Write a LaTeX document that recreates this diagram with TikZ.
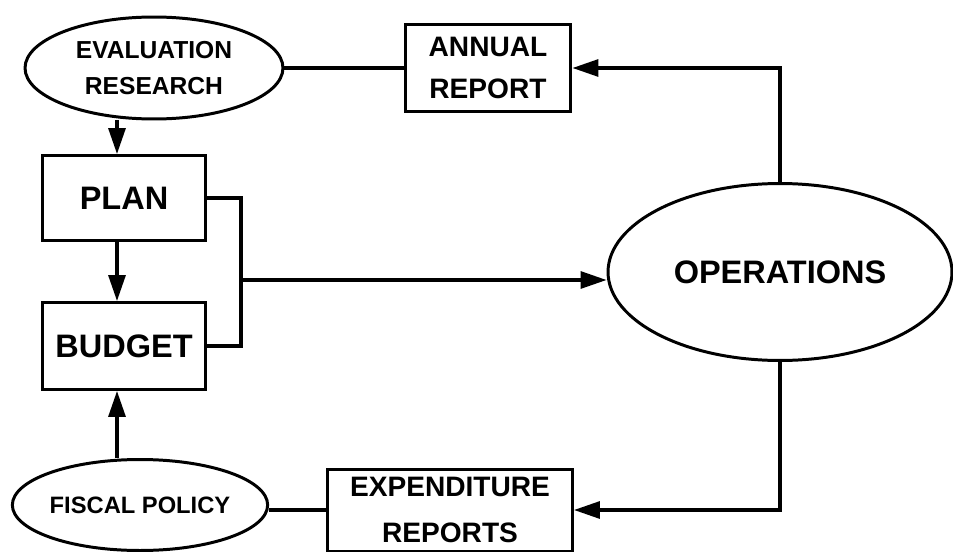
\documentclass[tikz,border=0pt]{standalone}
\usepackage{fontspec}
\setmainfont{Liberation Sans}
\usetikzlibrary{arrows.meta, shapes.geometric}

\begin{document}
\begin{tikzpicture}[
    x=0.02cm, y=-0.02cm,
    box/.style={
        draw,
        line width=1.7pt,
        align=center
    },
    oval/.style={
        box,
        ellipse,
        inner sep=0pt
    },
    link/.style={
        line width=1.8pt
    },
    arrow/.style={
        -{Triangle[length=0.52cm, width=0.34cm]},
        line width=1.8pt
    }
]

\useasboundingbox (0,0) rectangle (953,554);

\node[oval, minimum width=5.16cm, minimum height=2.04cm,
    font=\bfseries\fontsize{14}{20}\selectfont] (evalres) at (154,68)
    {EVALUATION\\RESEARCH};

\node[box, minimum width=3.32cm, minimum height=1.74cm,
    font=\bfseries\fontsize{16}{24}\selectfont] (annual) at (488,68)
    {ANNUAL\\REPORT};

\node[box, minimum width=3.25cm, minimum height=1.7cm,
    font=\bfseries\fontsize{18.5}{22}\selectfont] (plan) at (124,198)
    {PLAN};

\node[box, minimum width=3.25cm, minimum height=1.74cm,
    font=\bfseries\fontsize{18.5}{22}\selectfont] (budget) at (124,346)
    {BUDGET};

\node[oval, minimum width=6.88cm, minimum height=3.54cm,
    font=\bfseries\fontsize{18.5}{22}\selectfont] (operations) at (780,272)
    {OPERATIONS};

\node[oval, minimum width=5.1cm, minimum height=1.82cm,
    font=\bfseries\fontsize{13.5}{16}\selectfont] (fiscal) at (140,505)
    {FISCAL POLICY};

\node[box, minimum width=4.9cm, minimum height=1.64cm,
    font=\bfseries\fontsize{16}{26}\selectfont] (expend) at (450,510)
    {EXPENDITURE\\REPORTS};

\coordinate (fork) at (241,280);

% reports back from operations
\draw[link] (evalres.east) -- (annual.west);
\draw[arrow] (operations.north) |- (annual.east);
\draw[arrow] (operations.south) |- (expend.east);
\draw[link] (expend.west) -- (expend.west -| fiscal.east);

% planning chain
\draw[arrow] ([xshift=-0.14cm]plan.north |- evalres.south) -- ([xshift=-0.14cm]plan.north);
\draw[arrow] ([xshift=-0.14cm]plan.south) -- ([xshift=-0.14cm]budget.north);
\draw[arrow] ([xshift=-0.14cm]budget.south |- fiscal.north) -- ([xshift=-0.14cm]budget.south);
\draw[link] (plan.east) -| (fork) |- (budget.east);
\draw[arrow] (fork) -- (fork -| operations.west);

\end{tikzpicture}
\end{document}
